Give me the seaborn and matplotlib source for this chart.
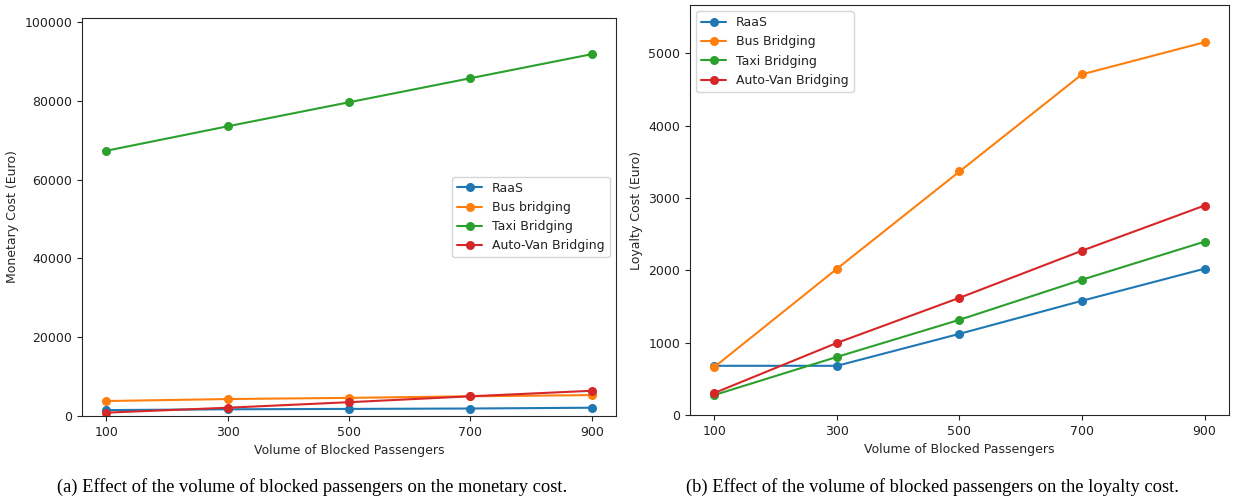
import numpy as np
import pandas as pd
import seaborn as sns
import matplotlib
matplotlib.use("Agg")
import matplotlib.pyplot as plt

# passenger volumes on x axis
volumes = [100, 300, 500, 700, 900]

# (a) monetary cost, Euro
mon_labels = ["RaaS", "Bus bridging", "Taxi Bridging", "Auto-Van Bridging"]
mon_raas = [1500, 1700, 1800, 1900, 2100]
mon_bus = [3800, 4300, 4600, 5000, 5300]
mon_taxi = [67300, 73500, 79600, 85700, 91800]
mon_van = [850, 2100, 3500, 5000, 6400]

# (b) loyalty cost, Euro
loy_labels = ["RaaS", "Bus Bridging", "Taxi Bridging", "Auto-Van Bridging"]
loy_raas = [680, 680, 1122, 1579, 2022]
loy_bus = [665, 2022, 3366, 4709, 5152]
loy_taxi = [277, 803, 1316, 1870, 2396]
loy_van = [305, 997, 1620, 2271, 2895]

captions = ["(a) Effect of the volume of blocked passengers on the monetary cost.",
            "(b) Effect of the volume of blocked passengers on the loyalty cost."]

sns.set_style("ticks")
plt.rcParams["font.family"] = ["DejaVu Sans"]
plt.rcParams["font.size"] = 9
plt.rcParams["text.color"] = "#222222"
plt.rcParams["xtick.labelcolor"] = "#222222"
plt.rcParams["ytick.labelcolor"] = "#222222"
colors = sns.color_palette("tab10", 4)

fig = plt.figure(figsize=(12.4, 5), dpi=100)
ax1 = fig.add_axes([82 / 1240, 84 / 500, 534 / 1240, 398 / 500])
ax2 = fig.add_axes([690 / 1240, 85 / 500, 539 / 1240, 410 / 500])


def draw(ax, series, labels, ylabel, legend_loc):
    for vals, lab, col in zip(series, labels, colors):
        df = pd.DataFrame({"x": volumes, "y": vals})
        sns.lineplot(data=df, x="x", y="y", ax=ax, color=col, label=lab,
                     marker="o", markersize=6.5, markeredgewidth=0, linewidth=1.5)
    ax.set_xticks(volumes)
    ymax = max(max(v) for v in series)
    ax.set_ylim(0, ymax * 1.1)
    ax.set_xlabel("Volume of Blocked Passengers", fontsize=9)
    ax.set_ylabel(ylabel, fontsize=9)
    ax.tick_params(labelsize=9)
    for s in ax.spines.values():
        s.set_visible(True)
        s.set_linewidth(0.8)
    ax.legend(loc=legend_loc, fontsize=9, framealpha=0.8)


draw(ax1, [mon_raas, mon_bus, mon_taxi, mon_van], mon_labels,
     "Monetary Cost (Euro)", "center right")
draw(ax2, [loy_raas, loy_bus, loy_taxi, loy_van], loy_labels,
     "Loyalty Cost (Euro)", "upper left")

fig.text(312 / 1240, 1 - 487 / 500, captions[0], ha="center", va="center",
         family="Liberation Serif", fontsize=13.3, color="black")
fig.text(933 / 1240, 1 - 487 / 500, captions[1], ha="center", va="center",
         family="Liberation Serif", fontsize=13.3, color="black")

fig.savefig("out.png", dpi=100)
